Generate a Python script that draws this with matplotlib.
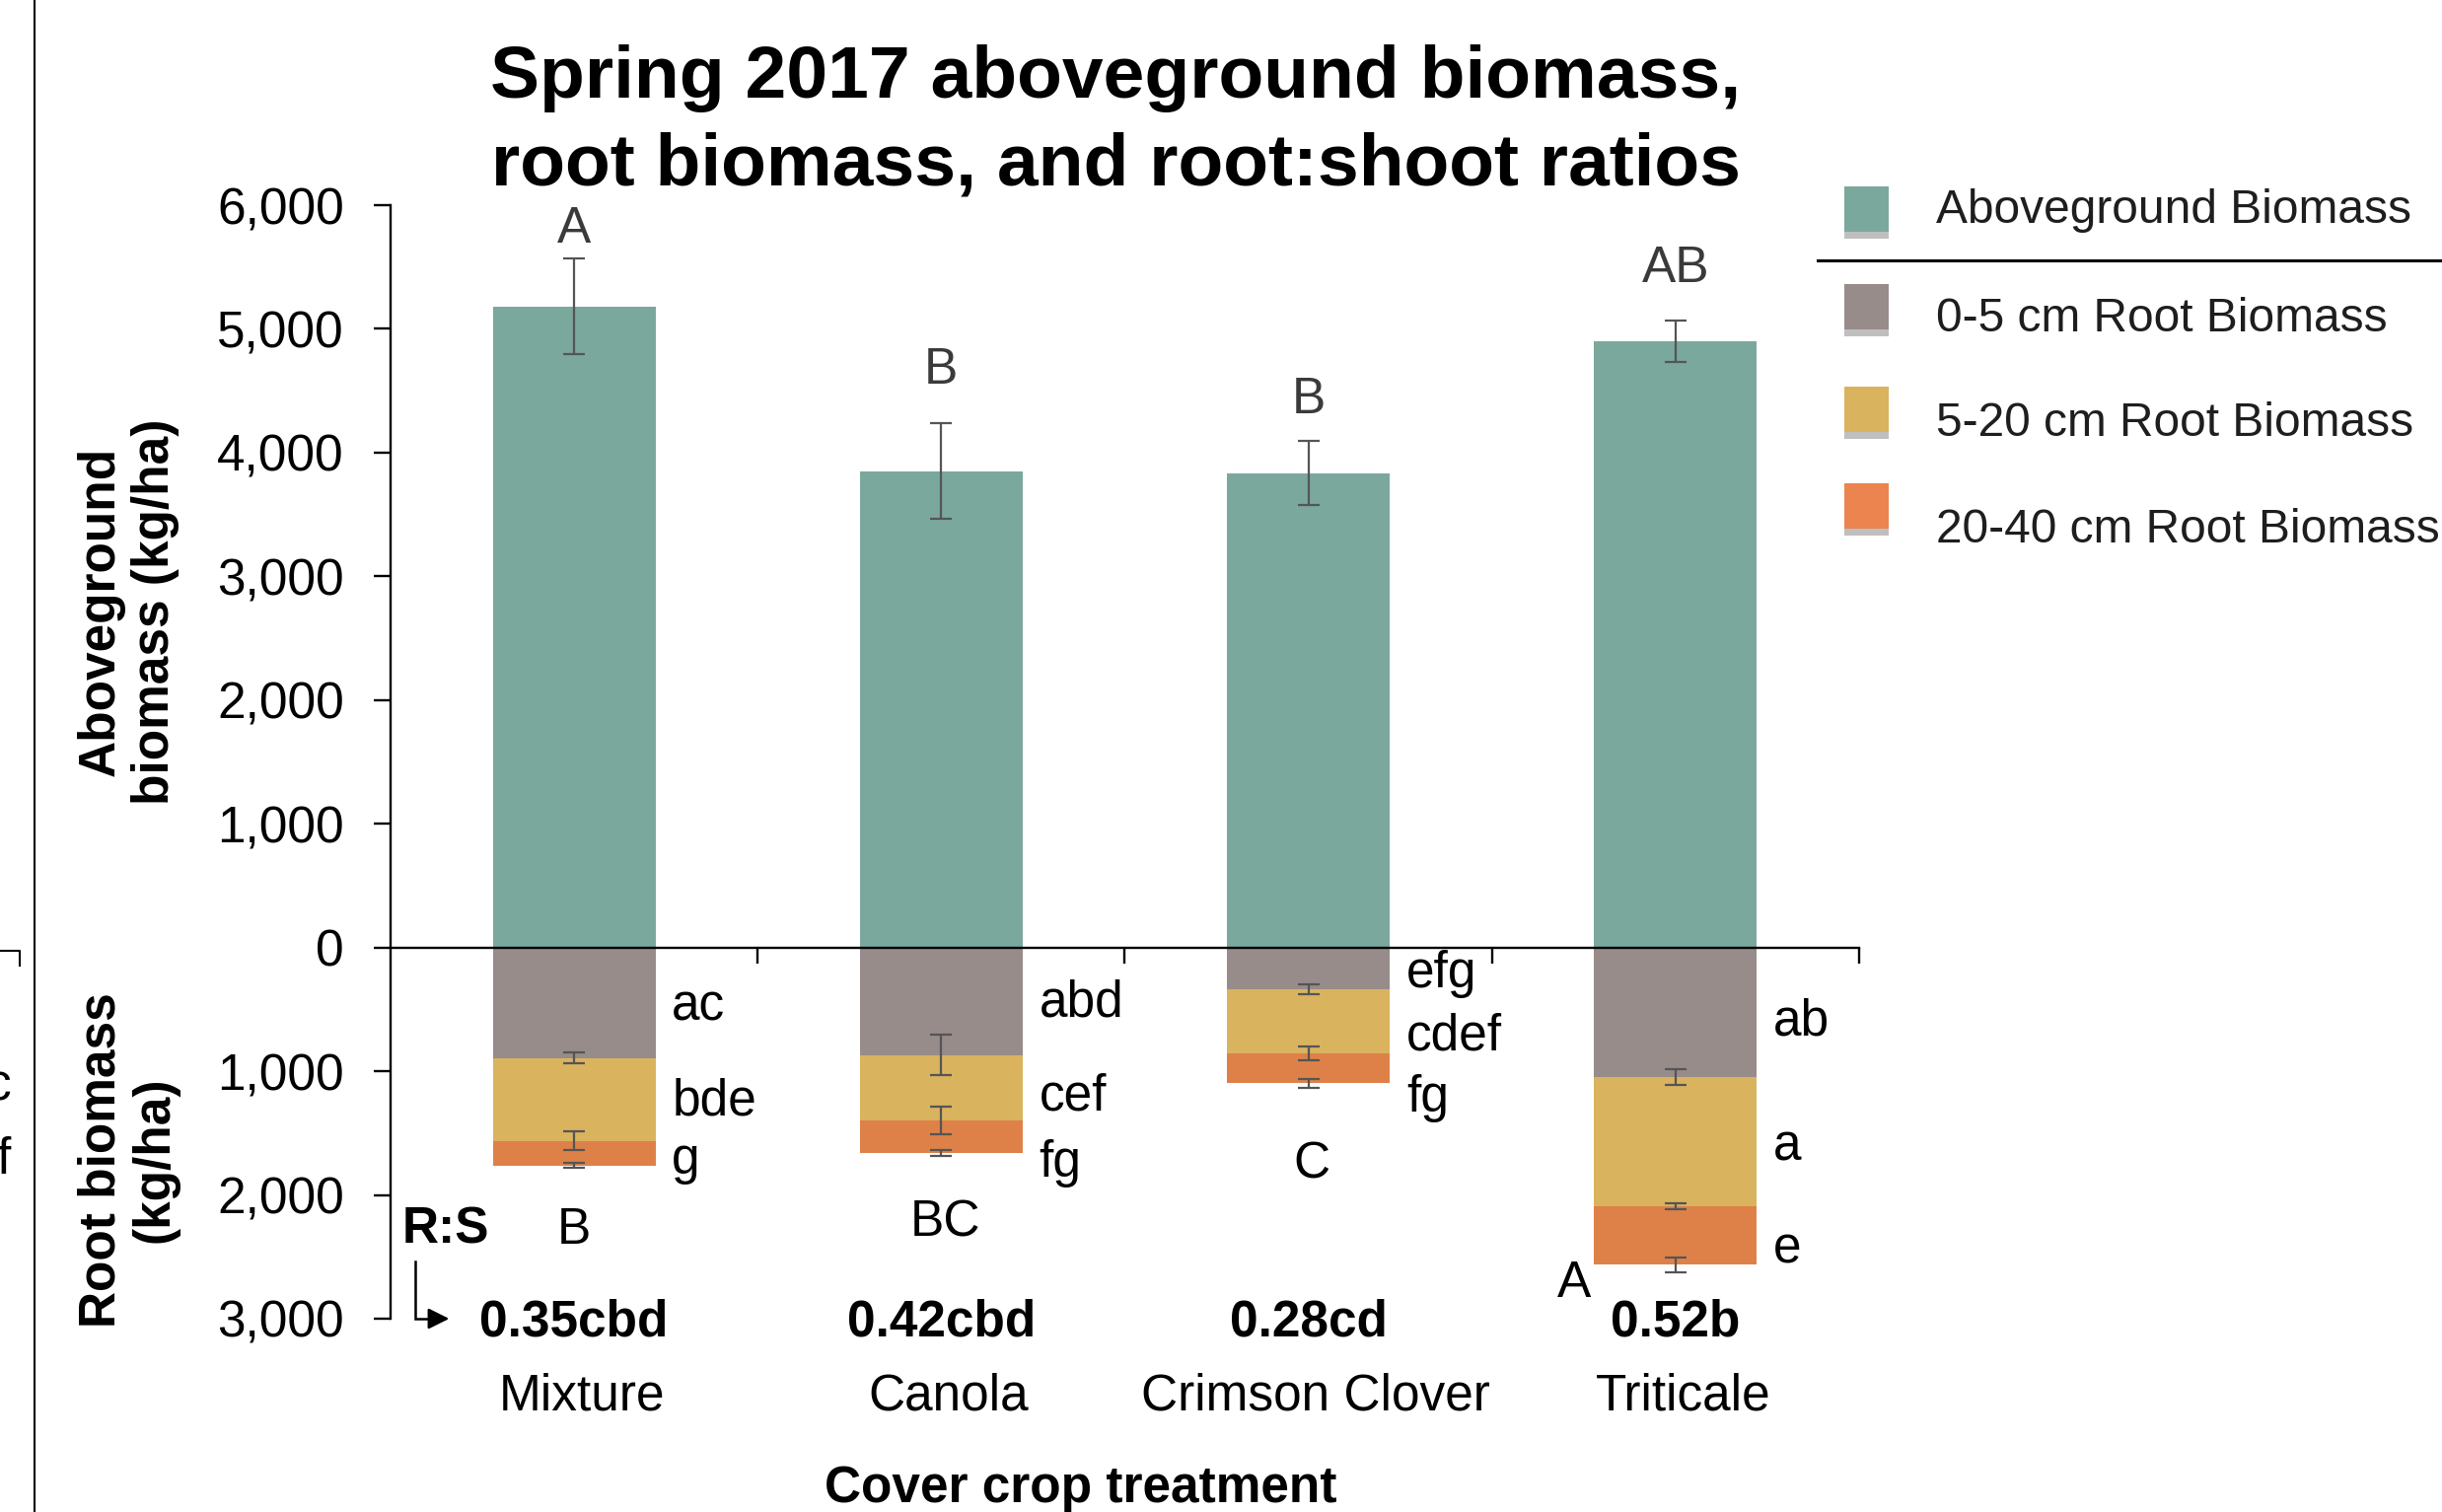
import matplotlib
matplotlib.use('Agg')
import matplotlib.pyplot as plt
import matplotlib.patheffects as pe
from matplotlib.lines import Line2D
from matplotlib.patches import Rectangle
from matplotlib.ticker import FixedLocator, FuncFormatter
import numpy as np

plt.rcParams['font.family'] = ['Liberation Sans', 'DejaVu Sans']

# ---------------------------------------------------------------------------
# Data (kg/ha)
# ---------------------------------------------------------------------------
treatments = ['Mixture', 'Canola', 'Crimson Clover', 'Triticale']

above = [5180, 3850, 3835, 4900]
above_se = [386, 385, 260, 167]
above_letters = ['A', 'B', 'B', 'AB']

root_0_5 = [894, 868, 334, 1050]
root_5_20 = [668, 528, 523, 1045]
root_20_40 = [200, 267, 240, 470]
root_0_5_se = [45, 160, 40, 64]
root_5_20_se = [75, 113, 57, 24]
root_20_40_se = [20, 24, 35, 60]

letters_0_5 = ['ac', 'abd', 'efg', 'ab']
letters_5_20 = ['bde', 'cef', 'cdef', 'a']
letters_20_40 = ['g', 'fg', 'fg', 'e']
total_root_letters = ['B', 'BC', 'C', 'A']

rs_ratio = [0.35, 0.42, 0.28, 0.52]
rs_letters = ['cbd', 'cbd', 'cd', 'b']

# ---------------------------------------------------------------------------
# Layout
# ---------------------------------------------------------------------------
W, H = 2476, 1533
BAR_W = 0.443
C_ABOVE = '#7ba89d'
C_0_5 = '#978c8a'
C_5_20 = '#d9b35e'
C_20_40 = '#de8149'
ERR_C = '#555555'

# gap between error-bar top and the letter above each shoot bar
above_letter_gap = [240, 430, 330, 420]
# vertical centres of the depth letters beside each root stack
depth_letter_y = [[-478, -1245, -1723],
                  [-453, -1208, -1748],
                  [-214, -717, -1220],
                  [-604, -1610, -2440]]
# total-root letters under each stack (x offset, y centre)
total_letter_pos = [(0.0, -2290), (0.01, -2225), (0.01, -1760), (-0.275, -2720)]


def fx(px):
    return px / W


def fy(py):
    return 1 - py / H


fig = plt.figure(figsize=(W / 100, H / 100), dpi=100)
ax = fig.add_axes([fx(396), fy(1337), fx(1885) - fx(396), fy(208) - fy(1337)])

x = np.arange(len(treatments))
above = np.array(above)
r1 = -np.array(root_0_5)
r2 = -np.array(root_5_20)
r3 = -np.array(root_20_40)

ax.bar(x, above, BAR_W, color=C_ABOVE, zorder=1)
ax.bar(x, r1, BAR_W, color=C_0_5, zorder=1)
ax.bar(x, r2, BAR_W, bottom=r1, color=C_5_20, zorder=1)
ax.bar(x, r3, BAR_W, bottom=r1 + r2, color=C_20_40, zorder=1)

err_kw = dict(fmt='none', ecolor=ERR_C, elinewidth=1.6, capsize=8, capthick=1.6, zorder=3)
ax.errorbar(x, above, yerr=above_se, **err_kw)
ax.errorbar(x, r1, yerr=root_0_5_se, **err_kw)
ax.errorbar(x, r1 + r2, yerr=root_5_20_se, **err_kw)
ax.errorbar(x, r1 + r2 + r3, yerr=root_20_40_se, **err_kw)

ax.set_xlim(-0.5, 3.5001)
ax.set_ylim(-3000, 6000)

# axes: left spine full height, bottom spine runs along zero
for s in ('top', 'right'):
    ax.spines[s].set_visible(False)
ax.spines['bottom'].set_position(('data', 0))
for s in ('left', 'bottom'):
    ax.spines[s].set_linewidth(1.7)
    ax.spines[s].set_zorder(4)

ax.yaxis.set_major_locator(FixedLocator(np.arange(-3000, 6001, 1000)))
ax.yaxis.set_major_formatter(FuncFormatter(lambda v, p: f'{abs(v):,.0f}'))
ax.tick_params(axis='y', direction='out', length=12, width=1.7, pad=22,
               labelsize=37, labelcolor='black')
ax.xaxis.set_major_locator(FixedLocator([0.5, 1.5, 2.5, 3.5]))
ax.tick_params(axis='x', direction='out', length=11.5, width=1.7, labelbottom=False)

# significance letters
for i in range(len(x)):
    ax.text(x[i], above[i] + above_se[i] + above_letter_gap[i], above_letters[i],
            ha='center', va='center', fontsize=37, color='#3a3a3a')
    right = x[i] + BAR_W / 2 + 0.045
    for lab, yy in zip((letters_0_5[i], letters_5_20[i], letters_20_40[i]), depth_letter_y[i]):
        ax.text(right, yy, lab, ha='left', va='center', fontsize=37)
    dx, yy = total_letter_pos[i]
    ax.text(x[i] + dx, yy, total_root_letters[i], ha='center', va='center', fontsize=37)

# root:shoot ratios and treatment names under the axis
for i in range(len(x)):
    ax.text(x[i], -3030, f'{rs_ratio[i]:.2f}{rs_letters[i]}', ha='center', va='center',
            fontsize=37, fontweight='bold', clip_on=False)
    ax.text(x[i] + 0.02, -3630, treatments[i], ha='center', va='center',
            fontsize=37, clip_on=False)

ax.text(-0.47, -2285, 'R:S', ha='left', va='center', fontsize=37,
        fontweight='bold', clip_on=False)
ax.plot([-0.433, -0.433, -0.37], [-2540, -3000, -3000], color='black', lw=1.8,
        clip_on=False, solid_joinstyle='miter')
ax.annotate('', xy=(-0.333, -3000), xytext=(-0.38, -3000),
            arrowprops=dict(arrowstyle='-|>', color='black', lw=1.8, mutation_scale=32),
            annotation_clip=False)

# titles and axis labels
fig.text(fx(1131), fy(124), 'Spring 2017 aboveground biomass,\nroot biomass, and root:shoot ratios',
         ha='center', va='center', fontsize=54, fontweight='bold', linespacing=1.36)
fig.text(fx(130), fy(620), 'Aboveground\nbiomass (kg/ha)', ha='center', va='center',
         rotation=90, fontsize=37, fontweight='bold', linespacing=1.15)
fig.text(fx(130), fy(1176), 'Root biomass\n(kg/ha)', ha='center', va='center',
         rotation=90, fontsize=37, fontweight='bold', linespacing=1.15)
fig.text(fx(1096), fy(1510), 'Cover crop treatment', ha='center', va='center',
         fontsize=37, fontweight='bold')

# legend, drawn by hand so the separator sits under the shoot entry
legend_items = [('Aboveground Biomass', C_ABOVE), ('0-5 cm Root Biomass', C_0_5),
                ('5-20 cm Root Biomass', C_5_20), ('20-40 cm Root Biomass', '#ec8450')]
patch_y = [212, 311, 415, 513]
text_y = [214, 323, 430, 538]
shadow = [pe.SimplePatchShadow(offset=(0, -5), shadow_rgbFace='0.45', alpha=0.45), pe.Normal()]
for (lab, col), py, ty in zip(legend_items, patch_y, text_y):
    rect = Rectangle((fx(1870), fy(py + 23)), fx(45), 46 / H, transform=fig.transFigure,
                     facecolor=col, edgecolor='none', path_effects=shadow)
    fig.patches.append(rect)
    fig.text(fx(1963), fy(ty), lab, ha='left', va='center', fontsize=34.5, color='#1e1e1e')
fig.lines.append(Line2D([fx(1843), 1.0], [fy(264), fy(264)], transform=fig.transFigure,
                        color='black', lw=2.2))

# edge of the neighbouring panel
fig.lines.append(Line2D([fx(35), fx(35)], [0, 1], transform=fig.transFigure,
                        color='black', lw=1.5))
fig.lines.append(Line2D([0, fx(20), fx(20)], [fy(964), fy(964), fy(979)],
                        transform=fig.transFigure, color='black', lw=1.5))
fig.text(fx(12), fy(1102), 'c', ha='right', va='center', fontsize=37)
fig.text(fx(11), fy(1176), 'f', ha='right', va='center', fontsize=37)

fig.savefig('out.png', dpi=100, facecolor='white')
